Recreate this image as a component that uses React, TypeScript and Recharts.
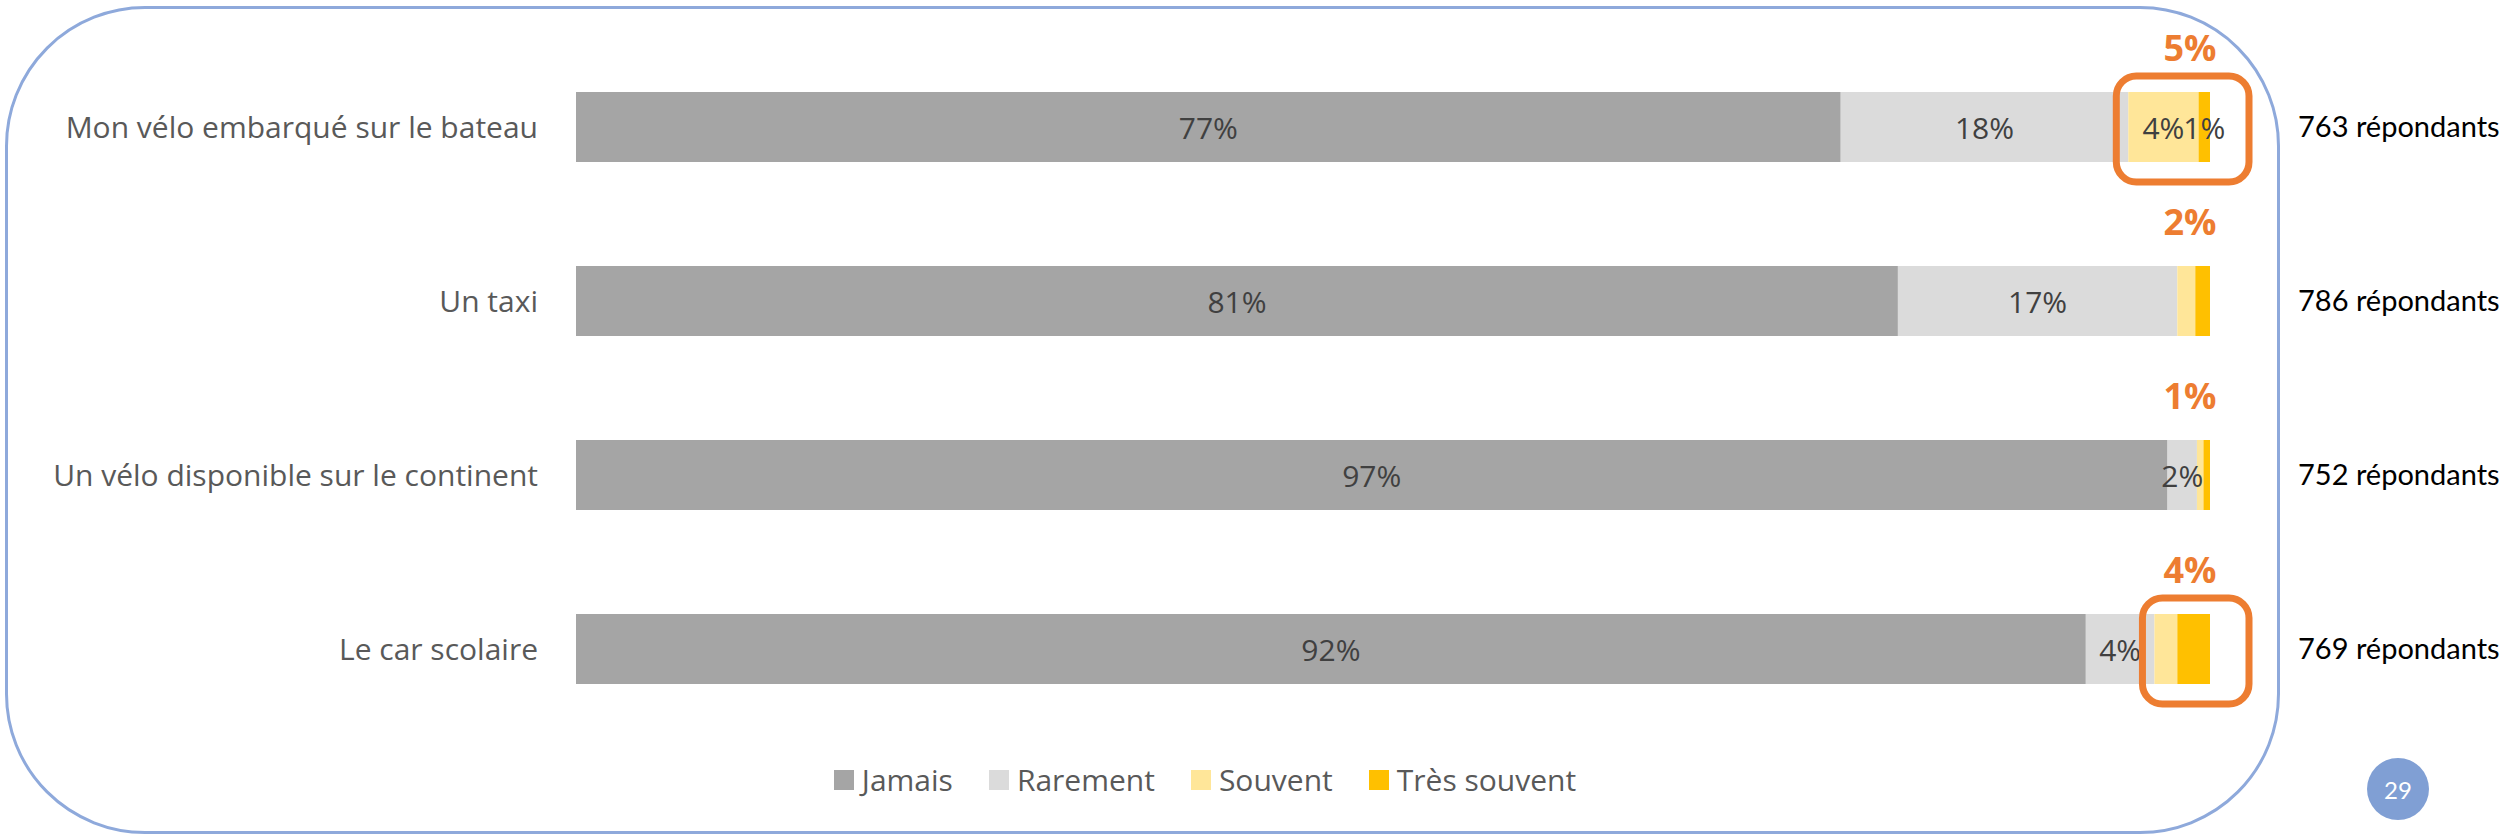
import { BarChart, Bar, XAxis, YAxis, Legend, LabelList } from 'recharts';

const categories = [
  'Mon vélo embarqué sur le bateau',
  'Un taxi',
  'Un vélo disponible sur le continent',
  'Le car scolaire',
];
const respondents = [763, 786, 752, 769];

const jamais = [77.4, 80.9, 97.4, 92.4];
const rarement = [17.6, 17.1, 1.8, 4.2];
const souvent = [4.3, 1.1, 0.4, 1.4];
const tresSouvent = [0.7, 0.9, 0.4, 2.0];

const jamaisLabels = ['77%', '81%', '97%', '92%'];
const rarementLabels = ['18%', '17%', '2%', '4%'];
const souventLabels = ['4%', '', '', ''];
const tresSouventLabels = ['1%', '', '', ''];
const totalLabels = ['5%', '2%', '1%', '4%'];
const highlighted = [true, false, false, true];

const data = categories.map((name, i) => ({
  name,
  jamais: jamais[i],
  rarement: rarement[i],
  souvent: souvent[i],
  tresSouvent: tresSouvent[i],
}));

const ORANGE = '#ED7D31';
const FONT = "'Open Sans', sans-serif";

// label centered in its own segment, only where the original shows one
const centerLabel = (texts: string[]) => (props: any) => {
  const { x, y, width, height, index } = props;
  const t = texts[index];
  if (!t) return null;
  return (
    <text
      x={x + width / 2}
      y={y + height / 2}
      textAnchor="middle"
      dominantBaseline="central"
      fill="#404040"
      fontSize={30}
      fontFamily={FONT}
    >
      {t}
    </text>
  );
};

// orange rounded box around souvent + très souvent (drawn from the souvent segment)
const highlightBox = (props: any) => {
  const { x, y, width, height, index } = props;
  if (!highlighted[index]) return null;
  const end = x + width + tresSouvent[index] * (width / souvent[index]);
  const left = x - 12;
  const top = y - 16;
  return (
    <rect
      x={left}
      y={top}
      width={end + 39 - left}
      height={height + 36}
      rx={20}
      ry={20}
      fill="none"
      stroke={ORANGE}
      strokeWidth={7}
    />
  );
};

const totalLabel = (props: any) => {
  const { x, y, width, index } = props;
  return (
    <text
      x={x + width - 20}
      y={y - 45}
      textAnchor="middle"
      dominantBaseline="central"
      fill={ORANGE}
      fontSize={36}
      fontWeight={700}
      fontFamily={FONT}
    >
      {totalLabels[index]}
    </text>
  );
};

const renderLegend = (props: any) => {
  const { payload } = props;
  return (
    <div style={{ display: 'flex', justifyContent: 'center', alignItems: 'center', gap: 36, height: 30 }}>
      {payload.map((p: any) => (
        <div key={p.value} style={{ display: 'flex', alignItems: 'center', gap: 8 }}>
          <div style={{ width: 20, height: 20, background: p.color }} />
          <span style={{ fontFamily: FONT, fontSize: 30, color: '#595959', lineHeight: '30px' }}>{p.value}</span>
        </div>
      ))}
    </div>
  );
};

export default function App() {
  return (
    <div style={{ position: 'absolute', left: 0, top: 0, width: 2504, height: 837, background: '#fff' }}>
      <div
        style={{
          position: 'absolute',
          left: 5,
          top: 6,
          width: 2275,
          height: 828,
          boxSizing: 'border-box',
          border: '3px solid #8EA9DB',
          borderRadius: 140,
        }}
      />
      <div
        style={{
          position: 'absolute',
          left: 2367,
          top: 758,
          width: 62,
          height: 62,
          borderRadius: '50%',
          background: '#809FD4',
          color: '#fff',
          fontFamily: 'Lato, sans-serif',
          fontSize: 24,
          display: 'flex',
          alignItems: 'center',
          justifyContent: 'center',
        }}
      >
        29
      </div>
      <div style={{ position: 'absolute', left: 0, top: 0 }}>
        <BarChart
          width={2504}
          height={837}
          data={data}
          layout="vertical"
          margin={{ top: 40, right: 0, bottom: 101, left: 0 }}
        >
          <XAxis type="number" domain={[0, 100]} hide />
          <YAxis
            yAxisId="left"
            type="category"
            dataKey="name"
            width={576}
            axisLine={false}
            tickLine={false}
            tickMargin={32}
            interval={0}
            tick={{ fill: '#595959', fontSize: 30, fontFamily: FONT }}
          />
          <YAxis
            yAxisId="right"
            orientation="right"
            type="category"
            dataKey="name"
            width={294}
            axisLine={false}
            tickLine={false}
            tickMargin={82}
            interval={0}
            tickFormatter={(_v: any, i: number) => `${respondents[i]} répondants`}
            tick={{ fill: '#000', fontSize: 29, fontFamily: 'Lato, sans-serif', textAnchor: 'start' }}
          />
          <Legend
            verticalAlign="middle"
            align="center"
            layout="horizontal"
            wrapperStyle={{ top: 765, left: 0, width: 2410 }}
            content={renderLegend}
          />
          <Bar yAxisId="left" dataKey="jamais" name="Jamais" stackId="a" fill="#A5A5A5" barSize={70} isAnimationActive={false}>
            <LabelList content={centerLabel(jamaisLabels)} />
          </Bar>
          <Bar yAxisId="left" dataKey="rarement" name="Rarement" stackId="a" fill="#DBDBDB" barSize={70} isAnimationActive={false}>
            <LabelList content={centerLabel(rarementLabels)} />
          </Bar>
          <Bar yAxisId="left" dataKey="souvent" name="Souvent" stackId="a" fill="#FFE699" barSize={70} isAnimationActive={false}>
            <LabelList content={highlightBox} />
            <LabelList content={centerLabel(souventLabels)} />
          </Bar>
          <Bar yAxisId="left" dataKey="tresSouvent" name="Très souvent" stackId="a" fill="#FFC000" barSize={70} isAnimationActive={false}>
            <LabelList content={centerLabel(tresSouventLabels)} />
            <LabelList content={totalLabel} />
          </Bar>
        </BarChart>
      </div>
    </div>
  );
}
